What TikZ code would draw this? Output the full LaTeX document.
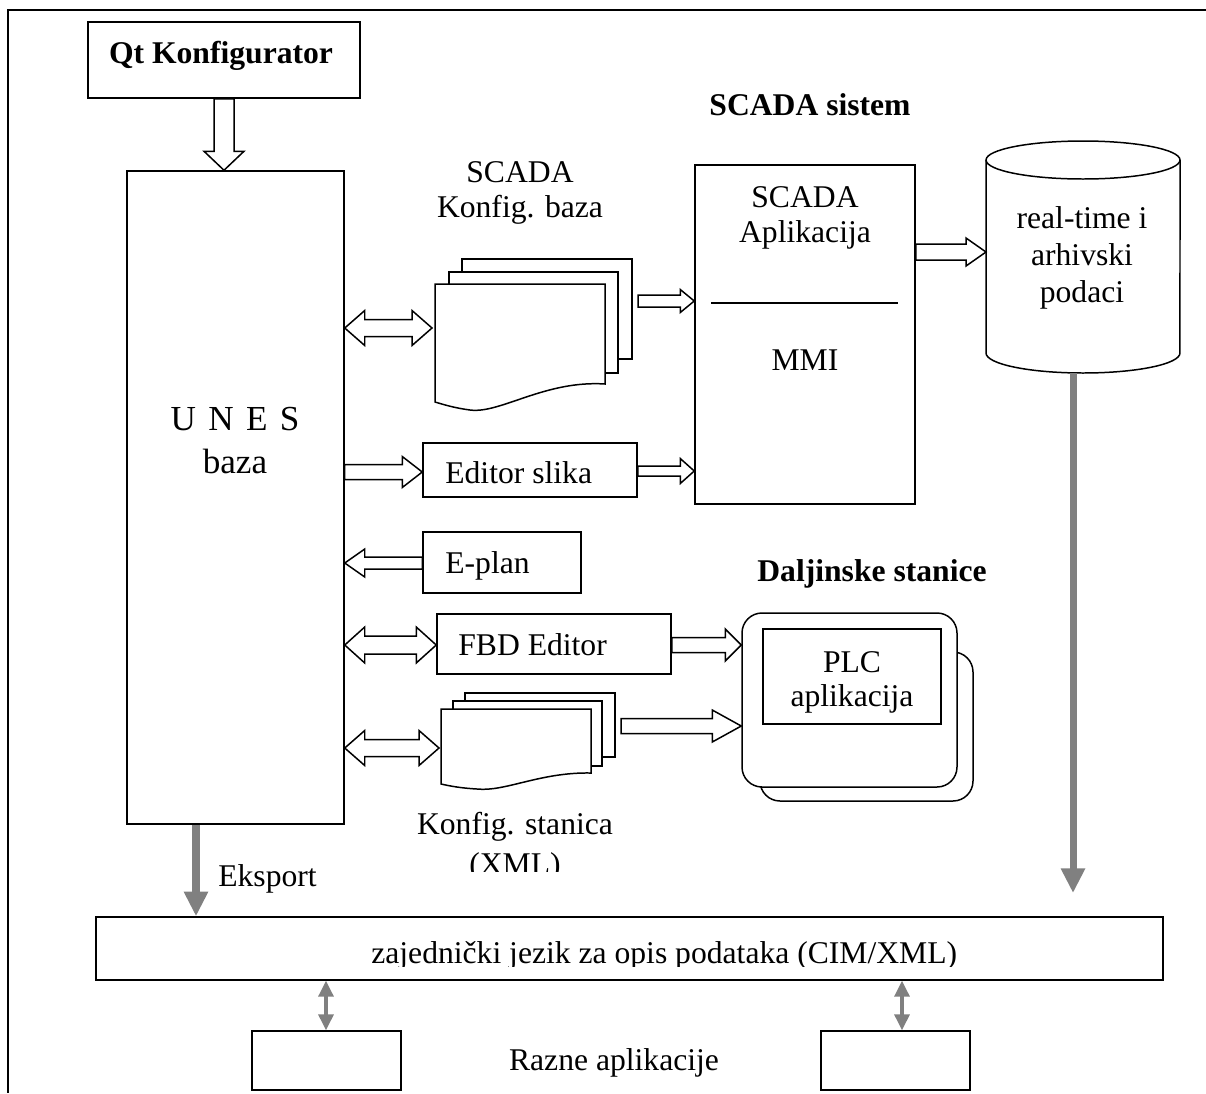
\documentclass[tikz,border=0pt]{standalone}
\usepackage{fontspec}
\setmainfont{Liberation Serif}
\usetikzlibrary{calc,fit,arrows.meta}
\definecolor{flowgray}{RGB}{128,128,128}

% hollow block arrow from #1 to #2: half shaft, half head, head length (px)
\newcommand\hollowone[5]{%
  \coordinate (hb) at ($(#2)!#5*0.02cm!(#1)$);
  \draw[hollow] ($(#1)!#3*0.02cm!90:(#2)$) -- ($(hb)!#3*0.02cm!90:(#2)$)
    -- ($(hb)!#4*0.02cm!90:(#2)$) -- (#2) -- ($(hb)!#4*0.02cm!-90:(#2)$)
    -- ($(hb)!#3*0.02cm!-90:(#2)$) -- ($(#1)!#3*0.02cm!-90:(#2)$) -- cycle;}
% hollow block arrow with heads at both ends
\newcommand\hollowtwo[5]{%
  \coordinate (ha) at ($(#1)!#5*0.02cm!(#2)$);
  \coordinate (hb) at ($(#2)!#5*0.02cm!(#1)$);
  \draw[hollow] (#1) -- ($(ha)!#4*0.02cm!90:(#2)$) -- ($(ha)!#3*0.02cm!90:(#2)$)
    -- ($(hb)!#3*0.02cm!90:(#2)$) -- ($(hb)!#4*0.02cm!90:(#2)$) -- (#2)
    -- ($(hb)!#4*0.02cm!-90:(#2)$) -- ($(hb)!#3*0.02cm!-90:(#2)$)
    -- ($(ha)!#3*0.02cm!-90:(#2)$) -- ($(ha)!#4*0.02cm!-90:(#2)$) -- cycle;}

\begin{document}
\begin{tikzpicture}[x=0.02cm, y=-0.02cm,
  font=\fontsize{18}{20.5}\selectfont,
  box/.style={draw, line width=0.85pt, inner sep=0pt, fill=white},
  hollow/.style={draw, line width=0.85pt, fill=white, line join=miter},
  sheet/.style={draw, line width=0.85pt, fill=white},
  txt/.style={inner sep=0pt, anchor=base},
  txtl/.style={inner sep=0pt, anchor=base west},
  bigflow/.style={draw=flowgray, line width=4pt, -{Triangle[width=13pt,length=14pt]}},
  smallflow/.style={draw=flowgray, line width=1.8pt,
    {Triangle[width=8.5pt,length=9pt]}-{Triangle[width=8.5pt,length=9pt]}}]

\useasboundingbox (0,0) rectangle (1206,1093);

% page frame (top and left edges)
\draw[line width=1.2pt] (1206,10) -- (8,10) -- (8,1093);

% main boxes
\node[box, fit={(88,22)(360,98)}] (qt) {};
\node[txt, font=\fontsize{18}{20.5}\selectfont\bfseries] (qtlabel) at (221,63) {Qt Konfigurator};
\node[box, fit={(127,171)(344,824)}] (unes) {};
\node[txt, font=\fontsize{20}{24}\selectfont] (unes1) at (235,430) {U\hspace{0.35em}N\hspace{0.35em}E\hspace{0.35em}S};
\node[txt, font=\fontsize{20}{24}\selectfont] (unes2) at (235,473) {baza};

\node[box, fit={(695,165)(915,504)}] (scada) {};
\node[txt] (scada1) at (805,207) {SCADA};
\node[txt] (scada2) at (805,242) {Aplikacija};
\draw[line width=0.85pt] (711,303) -- (898,303);
\node[txt] (mmi) at (805,370) {MMI};
\node[txt, font=\fontsize{18}{20.5}\selectfont\bfseries] (scadasys) at (810,115) {SCADA sistem};

\node[box, fit={(423,443)(637,497)}] (editor) {};
\node[txtl] (editorlabel) at (445,483) {Editor slika};
\node[box, fit={(423,532)(581,593)}] (eplan) {};
\node[txtl] (eplanlabel) at (445,573) {E-plan};
\node[box, fit={(437,614)(671,674)}] (fbd) {};
\node[txtl] (fbdlabel) at (458,655) {FBD Editor};

% SCADA configuration database (stack of sheets)
\draw[sheet] (462,259) rectangle (632,359);
\draw[sheet] (449,272) rectangle (618,373);
\draw[sheet] (435,284) -- (605,284) -- (605,384)
  .. controls (545,380) and (500,414) .. (470,410)
  .. controls (455,408) and (445,405) .. (435,402) -- cycle;
\coordinate (cfgA) at (432,328);
\coordinate (cfgAout) at (638,301);
\node[txt] (cfgA1) at (520,182) {SCADA};
\node[txt] (cfgA2) at (520,217) {Konfig. baza};

% station configuration (stack of sheets)
\draw[sheet] (465,693) rectangle (615,757);
\draw[sheet] (453,701) rectangle (602,766);
\draw[sheet] (441,709) -- (591,709) -- (591,773)
  .. controls (540,772) and (505,792) .. (477,789)
  .. controls (460,788) and (450,786) .. (441,784) -- cycle;
\coordinate (cfgB) at (439,748);
\coordinate (cfgBout) at (621,726);
\node[txt] (cfgB1) at (515,834) {Konfig. stanica};
\begin{scope}
  \clip (400,845) rectangle (640,871);
  \node[txt] (cfgB2) at (515,874) {(XML)};
\end{scope}

% real-time database cylinder
\draw[line width=0.85pt, fill=white] (986,160) -- (986,353)
  arc[start angle=180, end angle=360, x radius=1.94cm, y radius=0.4cm]
  -- (1180,160);
\draw[line width=0.85pt] (1083,160) ellipse [x radius=1.94cm, y radius=0.38cm];
\coordinate (dbw) at (986,252);
\coordinate (dbs) at (1073,373);
\node[txt] (db1) at (1082,228) {real-time i};
\node[txt] (db2) at (1082,265) {arhivski};
\node[txt] (db3) at (1082,302) {podaci};

% remote stations
\node[box, rounded corners=0.4cm, fit={(760,652)(973,801)}] (plcback) {};
\node[box, rounded corners=0.4cm, fit={(742,613)(957,787)}] (plc) {};
\node[box, fit={(763,629)(941,724)}] (plcapp) {};
\node[txt] (plc1) at (852,672) {PLC};
\node[txt] (plc2) at (852,706) {aplikacija};
\node[txt, font=\fontsize{18}{20.5}\selectfont\bfseries] (remote) at (872,581) {Daljinske stanice};

% common data language and applications
\node[box, fit={(96,917)(1163,980)}] (cim) {};
\begin{scope}
  \clip (96,917) rectangle (1163,966);
  \node[txtl] (cimlabel) at (371,963) {zajednički jezik za opis podataka (CIM/XML)};
\end{scope}
\node[box, fit={(252,1031)(401,1090)}] (appA) {};
\node[box, fit={(821,1031)(970,1090)}] (appB) {};
\node[txt] (apps) at (614,1070) {Razne aplikacije};

% block arrows
\coordinate (qtdown) at (qt.south |- unes.north);
\hollowone{qt.south}{qtdown}{10}{20}{19}

\coordinate (u1) at (unes.east |- cfgA);
\hollowtwo{u1}{cfgA}{8.5}{17.5}{20}
\coordinate (s1) at (scada.west |- cfgAout);
\hollowone{cfgAout}{s1}{6}{11.5}{14}

\coordinate (u2) at (unes.east |- 0,472);
\coordinate (e2) at (editor.west |- 0,472);
\hollowone{u2}{e2}{7.5}{15.5}{20}
\coordinate (e3) at (editor.east |- 0,471);
\coordinate (s3) at (scada.west |- 0,471);
\hollowone{e3}{s3}{5}{12.5}{14}

\coordinate (p4) at (eplan.west |- 0,563);
\coordinate (u4) at (unes.east |- 0,563);
\hollowone{p4}{u4}{6}{14}{20}

\coordinate (u5) at (unes.east |- 0,645);
\coordinate (f5) at (fbd.west |- 0,645);
\hollowtwo{u5}{f5}{9}{18}{20}
\coordinate (f6) at (fbd.east |- 0,645);
\coordinate (p6) at (plc.west |- 0,645);
\hollowone{f6}{p6}{7.5}{16}{16}

\coordinate (u7) at (unes.east |- cfgB);
\hollowtwo{u7}{cfgB}{8.5}{17.5}{20}
\coordinate (p8) at (plc.west |- cfgBout);
\hollowone{cfgBout}{p8}{7.5}{16}{29}

\coordinate (s9) at (scada.east |- dbw);
\hollowone{s9}{dbw}{8}{14}{20}

% data flows into the common language
\coordinate (ex1) at (unes.south -| 196,0);
\coordinate (ex2) at (cim.north -| 196,0);
\draw[bigflow] (ex1) -- (ex2);
\node[txtl] (eksport) at (218,886) {Eksport};
\coordinate (db4) at (1073,893);
\draw[bigflow] (dbs) -- (db4);

\coordinate (a1) at (cim.south -| 326,0);
\coordinate (a2) at (appA.north -| 326,0);
\draw[smallflow] (a1) -- (a2);
\coordinate (b1) at (cim.south -| 902,0);
\coordinate (b2) at (appB.north -| 902,0);
\draw[smallflow] (b1) -- (b2);
\end{tikzpicture}
\end{document}
